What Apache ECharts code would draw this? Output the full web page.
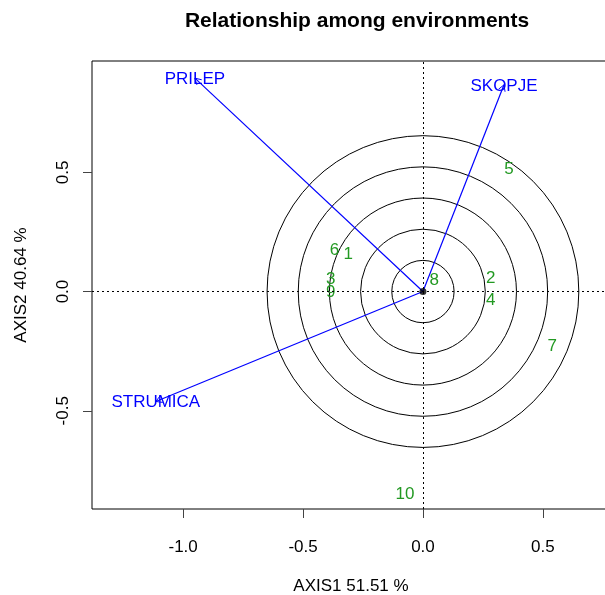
<!DOCTYPE html>
<html lang="en">
<head>
    <meta charset="UTF-8">
    <title>Relationship among environments</title>
    <style>
        html, body { margin: 0; padding: 0; background: #fff; }
        #chart { width: 605px; height: 595px; }
    </style>
</head>
<body>
<div id="chart"></div>
<script src="https://cdn.jsdelivr.net/npm/echarts@6.0.0/dist/echarts.min.js"></script>
<script>
    // environments (vectors)
    var envNames = ["PRILEP", "SKOPJE", "STRUMICA"];
    var envX = [-0.951, 0.338, -1.114];
    var envY = [0.895, 0.867, -0.461];

    // genotypes
    var genNames = ["1", "2", "3", "4", "5", "6", "7", "8", "9", "10"];
    var genX = [-0.312, 0.283, -0.385, 0.283, 0.359, -0.369, 0.539, 0.047, -0.385, -0.075];
    var genY = [0.157, 0.057, 0.052, -0.038, 0.513, 0.175, -0.228, 0.046, -0.004, -0.852];

    // concentric circles around origin
    var circleRadii = [0.13, 0.26, 0.39, 0.52, 0.65];

    var xTicks = [-1, -0.5, 0, 0.5];
    var yTicks = [-0.5, 0, 0.5];

    var FONT = "Liberation Sans, Arial, sans-serif";
    var BLUE = "#0000ff";
    var GREEN = "#229922";

    var envData = [], genData = [], circleData = [];
    for (var i = 0; i < envNames.length; i++) envData.push([envX[i], envY[i]]);
    for (var j = 0; j < genNames.length; j++) genData.push([genX[j], genY[j]]);
    for (var k = 0; k < circleRadii.length; k++) circleData.push([circleRadii[k]]);

    var chart = echarts.init(document.getElementById("chart"));

    function renderCircle(params, api) {
        var c = api.coord([0, 0]);
        var r = api.size([api.value(0), 0])[0];
        return {
            type: "circle",
            shape: { cx: c[0], cy: c[1], r: r },
            style: { fill: null, stroke: "#000", lineWidth: 1 }
        };
    }

    function renderArrow(params, api) {
        var o = api.coord([0, 0]);
        var p = api.coord([api.value(0), api.value(1)]);
        var ang = Math.atan2(p[1] - o[1], p[0] - o[0]);
        var L = 7, a = Math.PI / 6;
        var h1 = [p[0] - L * Math.cos(ang - a), p[1] - L * Math.sin(ang - a)];
        var h2 = [p[0] - L * Math.cos(ang + a), p[1] - L * Math.sin(ang + a)];
        return {
            type: "group",
            children: [
                { type: "line", shape: { x1: o[0], y1: o[1], x2: p[0], y2: p[1] },
                  style: { stroke: BLUE, lineWidth: 1.2 } },
                { type: "polyline", shape: { points: [h1, p, h2] },
                  style: { stroke: BLUE, fill: null, lineWidth: 1 } },
                { type: "text", x: p[0], y: p[1] + 1,
                  style: { text: envNames[params.dataIndex], fill: BLUE, fontSize: 17,
                           fontFamily: FONT, align: "center", verticalAlign: "middle" } }
            ]
        };
    }

    function renderGen(params, api) {
        var p = api.coord([api.value(0), api.value(1)]);
        return {
            type: "text", x: p[0], y: p[1],
            style: { text: genNames[params.dataIndex], fill: GREEN, fontSize: 17,
                     fontFamily: FONT, align: "center", verticalAlign: "middle" }
        };
    }

    var option = {
        animation: false,
        textStyle: { fontFamily: FONT },
        title: {
            text: "Relationship among environments",
            left: 352, top: 6, textAlign: "center",
            textStyle: { fontSize: 21, fontWeight: "bold", color: "#000", fontFamily: FONT }
        },
        grid: {
            left: 92, top: 61, right: -5, bottom: 86,
            outerBoundsMode: "none",
            show: true, borderColor: "#000", borderWidth: 1
        },
        xAxis: {
            type: "value", min: -1.38, max: 0.78,
            splitLine: { show: false },
            axisLine: { show: false, onZero: false },
            axisTick: { show: true, length: 9, customValues: xTicks, lineStyle: { color: "#444" } },
            axisLabel: { customValues: xTicks, fontSize: 17, color: "#000", margin: 30,
                         formatter: function (v) { return v.toFixed(1); } },
            name: "AXIS1 51.51 %", nameLocation: "middle", nameGap: 69,
            nameTextStyle: { fontSize: 17, color: "#000" }
        },
        yAxis: {
            type: "value", min: -0.912, max: 0.967,
            splitLine: { show: false },
            axisLine: { show: false, onZero: false },
            axisTick: { show: true, length: 9, customValues: yTicks, lineStyle: { color: "#444" } },
            axisLabel: { customValues: yTicks, fontSize: 17, color: "#000", margin: 20, rotate: 90,
                         formatter: function (v) { return v.toFixed(1); } },
            name: "AXIS2 40.64 %", nameLocation: "middle", nameGap: 62, nameRotate: 90,
            nameTextStyle: { fontSize: 17, color: "#000" }
        },
        series: [
            {
                type: "custom", renderItem: renderCircle, data: circleData, silent: true,
                markLine: {
                    symbol: "none", silent: true, label: { show: false },
                    lineStyle: { type: [2, 3], color: "#000", width: 1 },
                    data: [{ xAxis: 0 }, { yAxis: 0 }]
                }
            },
            { type: "custom", renderItem: renderArrow, data: envData, silent: true },
            {
                type: "scatter", data: [[0, 0]], symbol: "circle", symbolSize: 7,
                itemStyle: { color: "#000" }, silent: true
            },
            { type: "custom", renderItem: renderGen, data: genData, silent: true }
        ]
    };
    chart.setOption(option);
</script>
</body>
</html>
